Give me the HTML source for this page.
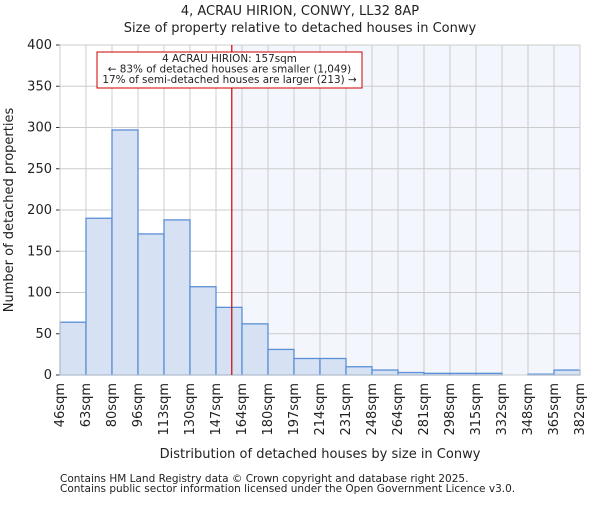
<!DOCTYPE html>
<html><head><meta charset="utf-8"><style>body{margin:0;background:#fff}svg text{font-family:"DejaVu Sans","Liberation Sans",sans-serif;fill:#222}</style></head>
<body>
<svg id="c" width="600" height="500"></svg>
<script>
const categories=["46sqm","63sqm","80sqm","96sqm","113sqm","130sqm","147sqm","164sqm","180sqm","197sqm","214sqm","231sqm","248sqm","264sqm","281sqm","298sqm","315sqm","332sqm","348sqm","365sqm","382sqm"];
const values=[64,190,297,171,188,107,82,62,31,20,20,10,6,3,2,2,2,0,1,6];
const yTicks=[0,50,100,150,200,250,300,350,400];
const binStart=46, binEnd=382, marker=157;
const L=60,R=580,T=45,B=375,ymax=400;
const x=v=>L+(v-binStart)/(binEnd-binStart)*(R-L);
const xi=i=>L+i*(R-L)/values.length;
const y=v=>B-v/ymax*(B-T);
const s=document.getElementById('c'),NS="http://www.w3.org/2000/svg";
function el(t,a,p){const e=document.createElementNS(NS,t);for(const k in a)e.setAttribute(k,a[k]);(p||s).appendChild(e);return e;}
let e;
e=el('rect',{x:x(marker),y:T,width:R-x(marker),height:B-T,fill:'#f3f6fd'});


yTicks.forEach(t=>{e=el('line',{x1:L,x2:R,y1:y(t),y2:y(t),stroke:'#ccc'});


e=el('line',{x1:L-4,x2:L,y1:y(t),y2:y(t),stroke:'#333'});
e=el('text',{x:L-8,y:y(t)+4,'text-anchor':'end','font-size':13});e.textContent=t;

});
categories.forEach((c,i)=>{e=el('line',{x1:xi(i),x2:xi(i),y1:T,y2:B,stroke:'#ccc'});


e=el('text',{transform:`translate(${xi(i)+4},${B+8}) rotate(-90)`,'text-anchor':'end','font-size':13});e.textContent=c;

});
values.forEach((v,i)=>{e=el('rect',{x:xi(i),y:y(v),width:xi(i+1)-xi(i),height:B-y(v),fill:'#d6e2f4',stroke:'#5b8fd6','stroke-width':1.3});

});
e=el('rect',{x:L,y:T,width:R-L,height:B-T,fill:'none',stroke:'#ccc'});
e=el('line',{x1:x(marker),x2:x(marker),y1:T,y2:B,stroke:'#c00','stroke-width':1.2});


const g=el('g',{});
el('rect',{x:97,y:52,width:265,height:36,fill:'#fff',stroke:'#c00'},g);
["4 ACRAU HIRION: 157sqm","← 83% of detached houses are smaller (1,049)","17% of semi-detached houses are larger (213) →"].forEach((t,i)=>{const tx=el('text',{x:229.5,y:62+i*10.5,'text-anchor':'middle','font-size':10.4},g);tx.textContent=t;});
[["4, ACRAU HIRION, CONWY, LL32 8AP",15,'chart-title'],["Size of property relative to detached houses in Conwy",32,'chart-subtitle']].forEach(a=>{e=el('text',{x:300,y:a[1],'text-anchor':'middle','font-size':13});e.textContent=a[0];});
e=el('text',{x:320,y:458,'text-anchor':'middle','font-size':13});e.textContent="Distribution of detached houses by size in Conwy";


e=el('text',{transform:'translate(13,210) rotate(-90)','text-anchor':'middle','font-size':13});e.textContent="Number of detached properties";


["Contains HM Land Registry data © Crown copyright and database right 2025.","Contains public sector information licensed under the Open Government Licence v3.0."].forEach((t,i)=>{e=el('text',{x:60,y:482+i*10,'font-size':10.5});e.textContent=t;});
</script>
</body></html>
